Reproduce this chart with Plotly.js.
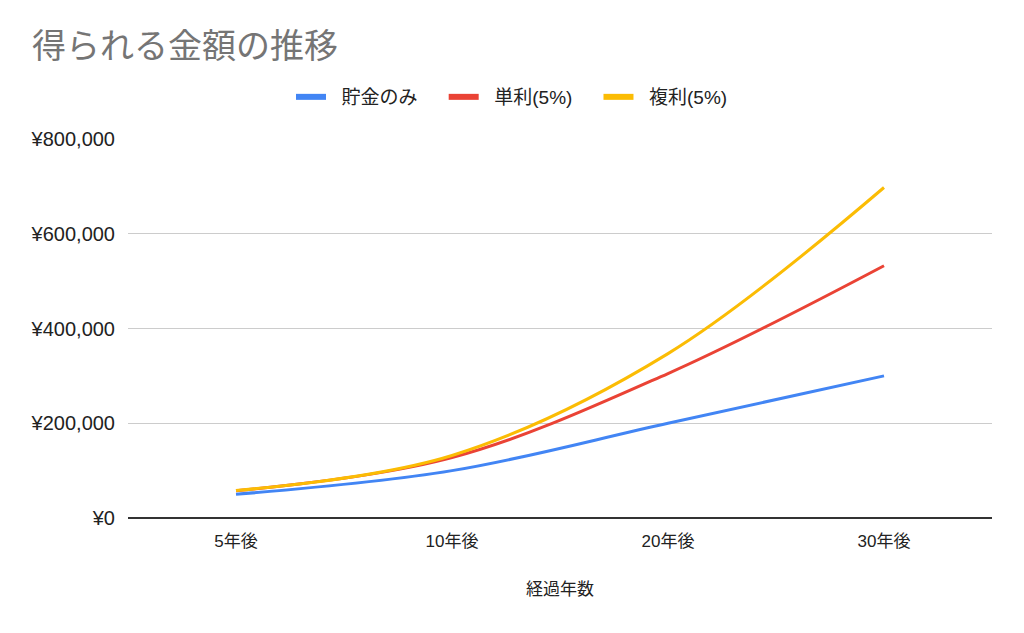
<!DOCTYPE html>
<html>
<head>
<meta charset="utf-8">
<script src="https://cdn.plot.ly/plotly-3.0.1.min.js"></script>
<style>html,body{margin:0;padding:0;background:#fff;}#chart{width:1024px;height:633px;}</style>
</head>
<body>
<div id="chart"></div>
<script>
const categories = ["5年後", "10年後", "20年後", "30年後"];
const savingsOnly = [50000, 100000, 200000, 300000];
const simpleInterest = [57500, 127500, 305000, 532500];
const compoundInterest = [58000, 132000, 347000, 697600];
const yTickVals = [0, 200000, 400000, 600000, 800000];
const yTickText = ["¥0", "¥200,000", "¥400,000", "¥600,000", "¥800,000"];

const FONT = "Liberation Sans, Arial, 'Noto Sans CJK JP', sans-serif";
const names = ["貯金のみ", "単利(5%)", "複利(5%)"];
const colors = ["#4285F4", "#EA4335", "#FBBC04"];
const series = [savingsOnly, simpleInterest, compoundInterest];
const pad = "\u00a0\u00a0\u00a0\u00a0";
const data = [];
series.forEach((y, i) => {
  data.push({type: "scatter", mode: "lines", name: names[i], x: categories, y: y, showlegend: false,
    line: {color: colors[i], width: 3, shape: "spline", smoothing: 1}});
});
series.forEach((y, i) => {
  data.push({type: "scatter", mode: "lines", name: "\u00a0\u00a0" + names[i] + (i < 2 ? pad : ""), x: [null], y: [null], showlegend: true,
    line: {color: colors[i], width: 6}});
});
const layout = {
  width: 1024, height: 633,
  paper_bgcolor: "#fff", plot_bgcolor: "#fff",
  margin: {l: 128, r: 32, t: 139, b: 115},
  font: {family: FONT, color: "#222"},
  title: {text: "得られる金額の推移", font: {size: 34, color: "#757575", family: FONT},
          xref: "container", x: 32/1024, xanchor: "left", yref: "container", y: 1 - 46/633, yanchor: "middle"},
  showlegend: true,
  legend: {orientation: "h", xref: "container", x: 0.5, xanchor: "center", yref: "container", y: 1 - 97/633, yanchor: "middle",
           font: {size: 19, color: "#222"}, itemwidth: 30, tracegroupgap: 0},
  xaxis: {type: "category", range: [-0.5, 3.5], showgrid: false, showline: false, zeroline: false, ticks: "",
          tickfont: {size: 17, color: "#222"}, ticklabelstandoff: 11,
          title: {text: "経過年数", font: {size: 17, color: "#222"}, standoff: 33}},
  yaxis: {range: [0, 800000], tickvals: yTickVals, ticktext: yTickText, showgrid: true, gridcolor: "#cccccc", gridwidth: 1,
          zeroline: true, zerolinecolor: "#333", zerolinewidth: 2, showline: false, ticks: "",
          tickfont: {size: 20, color: "#222"}, ticklabelstandoff: 12}
};
Plotly.newPlot("chart", data, layout, {displayModeBar: false, staticPlot: true});
</script>
</body>
</html>
